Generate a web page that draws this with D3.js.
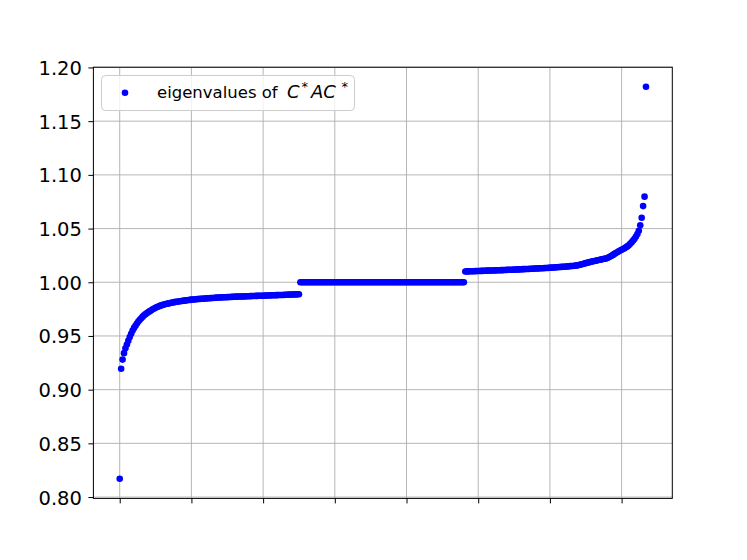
<!DOCTYPE html>
<html><head><meta charset="utf-8">
<script src="https://cdn.jsdelivr.net/npm/d3@7"></script>
<style>html,body{margin:0;padding:0;background:#fff}svg{display:block}</style>
</head><body>
<svg id="chart" width="747" height="560"></svg>
<script>
// sorted eigenvalues, lower branch (< 1)
const lowerBranch = [
0.8170,0.9195,0.9280,0.9340,0.9385,0.9420,0.9455,0.9490,0.9520,0.9550,
0.9575,0.9595,0.9615,0.9635,0.9650,0.9665,0.9680,0.9692,0.9703,0.9713,
0.9722,0.9731,0.9740,0.9748,0.9756,0.9763,0.9769,0.9775,0.9780,0.9785,0.9789,
0.9793,0.9797,0.9800,0.9803,0.9806,0.9809,0.9812,0.9815,0.9817,0.9819,
0.9821,0.9823,0.9825,0.9827,0.9829,0.9831,0.9833,0.9835,0.9836,0.9838,
0.9839,0.9840,0.9842,0.9843,0.9844,0.9845,0.9846,0.9847,0.9848,0.9849,
0.9850,0.9851,0.9852,0.9853,0.9854,0.9855,0.9856,0.9857,0.9858,0.9858,
0.9859,0.9860,0.9860,0.9861,0.9862,0.9862,0.9863,0.9864,0.9864,0.9865,
0.9866,0.9866,0.9867,0.9867,0.9868,0.9868,0.9869,0.9869,0.9870,0.9870,
0.9871,0.9871,0.9872,0.9872,0.9873,0.9873,0.9874,0.9874,0.9875,0.9875,
0.9876,0.9876,0.9877,0.9877,0.9878,0.9878,0.9879,0.9879,0.9880,0.9880,
0.9881,0.9881,0.9882,0.9882,0.9883,0.9884,0.9884,0.9885,0.9885,0.9886,
0.9886,0.9887,0.9887,0.9888,0.9888
];
// eigenvalues equal to 1
const unitBranch = [
1,1,1,1,1,1,1,1,1,1, 1,1,1,1,1,1,1,1,1,1,
1,1,1,1,1,1,1,1,1,1, 1,1,1,1,1,1,1,1,1,1,
1,1,1,1,1,1,1,1,1,1, 1,1,1,1,1,1,1,1,1,1,
1,1,1,1,1,1,1,1,1,1, 1,1,1,1,1,1,1,1,1,1,
1,1,1,1,1,1,1,1,1,1, 1,1,1,1,1,1,1,1,1,1,
1,1,1,1,1,1,1,1,1,1, 1,1,1,1,1
];
// upper branch (> 1)
const upperBranch = [
1.0100,1.0101,1.0101,1.0102,1.0102,1.0103,1.0103,1.0104,1.0104,1.0105,
1.0105,1.0106,1.0106,1.0107,1.0107,1.0108,1.0108,1.0109,1.0109,1.0110,
1.0110,1.0111,1.0111,1.0112,1.0112,1.0113,1.0113,1.0114,1.0114,1.0115,
1.0116,1.0116,1.0117,1.0117,1.0118,1.0118,1.0119,1.0120,1.0120,1.0121,
1.0122,1.0122,1.0123,1.0124,1.0124,1.0125,1.0126,1.0126,1.0127,1.0128,
1.0128,1.0129,1.0130,1.0130,1.0131,1.0132,1.0133,1.0133,1.0134,1.0135,
1.0136,1.0137,1.0138,1.0139,1.0140,1.0141,1.0142,1.0143,1.0144,1.0145,
1.0146,1.0147,1.0148,1.0150,1.0151,1.0152,1.0154,1.0155,1.0157,1.0160,
1.0163,1.0167,1.0170,1.0174,1.0178,1.0181,1.0185,1.0188,1.0192,1.0195,
1.0198,1.0201,1.0204,1.0207,1.0210,1.0213,1.0216,1.0219,1.0221,
1.0225,1.0232,1.0239,1.0247,1.0255,1.0264,1.0272,1.0280,1.0288,1.0296,
1.0303,1.0310,1.0317,1.0325,1.0334,1.0345,1.0358,1.0372,1.0388,1.0405,
1.0425,1.0450,1.0480,1.0530,1.0600,1.0709,1.0797,1.1820
];
const xTickValues = [0, 50, 100, 150, 200, 250, 300, 350];
const yTickValues = [0.80, 0.85, 0.90, 0.95, 1.00, 1.05, 1.10, 1.15, 1.20];

const eigenvalues = lowerBranch.concat(unitBranch, upperBranch);
const n = eigenvalues.length;

const W = 747, H = 560;
const axL = 93.4, axR = 672.3, axT = 67.2, axB = 498.4;
const svg = d3.select("#chart");
const font = "'DejaVu Sans', sans-serif";

const xs = d3.scaleLinear().domain([-0.05 * (n - 1), 1.05 * (n - 1)]).range([axL, axR]);
const [ymin, ymax] = d3.extent(eigenvalues);
const yr = ymax - ymin;
const ys = d3.scaleLinear().domain([ymin - 0.05 * yr, ymax + 0.05 * yr]).range([axB, axT]);

svg.append("rect").attr("width", W).attr("height", H).attr("fill", "#fff");

// grid
const grid = svg.append("g").attr("stroke", "#b0b0b0").attr("stroke-width", 0.93);
grid.selectAll(".gx").data(xTickValues).enter().append("line")
  .attr("x1", d => xs(d)).attr("x2", d => xs(d)).attr("y1", axT).attr("y2", axB);
grid.selectAll(".gy").data(yTickValues).enter().append("line")
  .attr("y1", d => ys(d)).attr("y2", d => ys(d)).attr("x1", axL).attr("x2", axR);

// points
svg.append("g").selectAll("circle").data(eigenvalues).enter().append("circle")
  .attr("cx", (d, i) => xs(i)).attr("cy", d => ys(d)).attr("r", 3.3).attr("fill", "#0000ff");

// axes
const xAxis = d3.axisBottom(xs).tickValues(xTickValues).tickFormat("").tickSizeOuter(0).tickSizeInner(5);
const gx = svg.append("g").attr("transform", `translate(0,${axB})`).call(xAxis);
gx.select(".domain").remove();
gx.selectAll(".tick line").attr("stroke", "#000").attr("stroke-width", 1);

const yAxis = d3.axisLeft(ys).tickValues(yTickValues).tickFormat(d3.format(".2f")).tickSizeOuter(0).tickSizeInner(5).tickPadding(6.5);
const gy = svg.append("g").attr("transform", `translate(${axL},0)`).call(yAxis);
gy.select(".domain").remove();
gy.selectAll(".tick line").attr("stroke", "#000").attr("stroke-width", 1);
gy.selectAll(".tick text").attr("font-family", font).attr("font-size", 19.5).attr("fill", "#000").attr("dy", "0.36em");

// spines
svg.append("rect").attr("x", axL).attr("y", axT).attr("width", axR - axL).attr("height", axB - axT)
  .attr("fill", "none").attr("stroke", "#000").attr("stroke-width", 1);

// legend
const lg = svg.append("g");
lg.append("rect").attr("x", 101.5).attr("y", 75.5).attr("width", 253).attr("height", 35).attr("rx", 4)
  .attr("fill", "#fff").attr("fill-opacity", 0.8).attr("stroke", "#cccccc").attr("stroke-width", 1);
lg.append("circle").attr("cx", 125).attr("cy", 92.8).attr("r", 3.3).attr("fill", "#0000ff");
const t = lg.append("text").attr("x", 157).attr("y", 97.8).attr("font-family", font).attr("font-size", 16.5).attr("fill", "#000");
t.append("tspan").text("eigenvalues of");
t.append("tspan").attr("font-style", "italic").attr("font-size", 18).attr("x", 287).text("C");
t.append("tspan").attr("font-size", 13).attr("x", 301.5).attr("dy", -7).text("*");
t.append("tspan").attr("font-style", "italic").attr("font-size", 18).attr("x", 311).attr("dy", 7).text("AC");
t.append("tspan").attr("font-size", 13).attr("x", 341.5).attr("dy", -7).text("*");
</script>
</body></html>
